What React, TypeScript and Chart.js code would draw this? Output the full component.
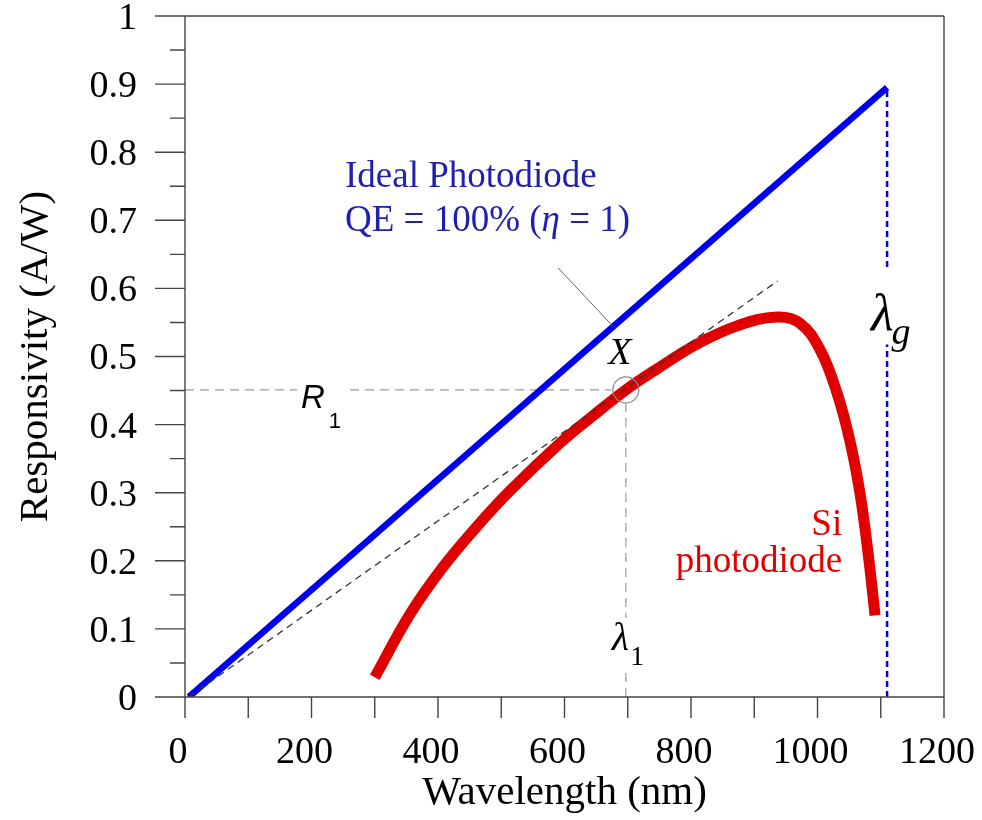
import React, { useEffect, useRef } from 'react';
import { Chart, registerables } from 'chart.js';

Chart.register(...registerables);

// ---------- data ----------
const idealWavelength = [6, 1110];
const idealResponsivity = [0, 0.895];

const siWavelength = [300, 356, 408, 462, 514, 593, 645, 697, 740, 809, 873, 936, 972, 1004, 1031, 1051, 1067, 1080, 1091];
const siResponsivity = [0.029, 0.122, 0.191, 0.251, 0.303, 0.373, 0.413, 0.451, 0.478, 0.518, 0.545, 0.558, 0.549, 0.51, 0.446, 0.377, 0.3, 0.211, 0.12];

const tangentWavelength = [6, 937];
const tangentResponsivity = [0, 0.611];

const lambda1 = 697;
const r1 = 0.451;
const lambdaG = 1110;
const lambdaGResponsivity = 0.895;

const xTickValues = [0, 100, 200, 300, 400, 500, 600, 700, 800, 900, 1000, 1100, 1200];
const xLabelValues = [0, 200, 400, 600, 800, 1000, 1200];
const xTickLabels = ['0', '200', '400', '600', '800', '1000', '1200'];

const yTickValues = [0, 0.05, 0.1, 0.15, 0.2, 0.25, 0.3, 0.35, 0.4, 0.45, 0.5, 0.55, 0.6, 0.65, 0.7, 0.75, 0.8, 0.85, 0.9, 0.95, 1];
const yLabelValues = [0, 0.1, 0.2, 0.3, 0.4, 0.5, 0.6, 0.7, 0.8, 0.9, 1];
const yTickLabels = ['0', '0.1', '0.2', '0.3', '0.4', '0.5', '0.6', '0.7', '0.8', '0.9', '1'];

const xTitle = 'Wavelength (nm)';
const yTitle = 'Responsivity (A/W)';

// annotation anchors in data units
const idealLabelLines = ['Ideal Photodiode'];
const idealLabelAnchor = { x: 253, y1: 0.749, y2: 0.684 };
const siLabelLines = ['Si', 'photodiode'];
const siLabelAnchor = { x: 1039, y1: 0.238, y2: 0.184 };
const leaderFrom = { x: 590, y: 0.63 };
const leaderTo = { x: 675, y: 0.546 };

const pts = (xs: number[], ys: number[]) => xs.map((x, i) => ({ x, y: ys[i] }));

const SERIF = '"Liberation Serif", "Times New Roman", serif';
const SANS = '"Liberation Sans", Arial, sans-serif';

const findLabel = (vals: number[], labels: string[], v: number) => {
  const i = vals.findIndex((l) => Math.abs(l - v) < 1e-9);
  return i >= 0 ? labels[i] : '';
};

const decorPlugin = {
  id: 'decor',
  afterDatasetsDraw(chart: any) {
    const { ctx, chartArea: a } = chart;
    const xs = chart.scales.x;
    const ys = chart.scales.y;
    const px = (v: number) => xs.getPixelForValue(v);
    const py = (v: number) => ys.getPixelForValue(v);
    ctx.save();

    // leader line from text to the ideal line
    ctx.strokeStyle = '#666';
    ctx.lineWidth = 1;
    ctx.beginPath();
    ctx.moveTo(px(leaderFrom.x), py(leaderFrom.y));
    ctx.lineTo(px(leaderTo.x), py(leaderTo.y));
    ctx.stroke();

    ctx.textBaseline = 'alphabetic';

    // Ideal photodiode text
    ctx.fillStyle = '#1f1fb0';
    ctx.textAlign = 'left';
    ctx.font = `37px ${SERIF}`;
    ctx.fillText(idealLabelLines[0], px(idealLabelAnchor.x), py(idealLabelAnchor.y1));
    {
      let cx = px(idealLabelAnchor.x);
      const by = py(idealLabelAnchor.y2);
      const parts: [string, string][] = [
        ['QE = 100% (', 'normal'],
        ['η', 'italic'],
        [' = 1)', 'normal'],
      ];
      for (const [t, st] of parts) {
        ctx.font = `${st === 'italic' ? 'italic ' : ''}37px ${SERIF}`;
        ctx.fillText(t, cx, by);
        cx += ctx.measureText(t).width;
      }
    }

    // Si photodiode text
    ctx.fillStyle = '#e00000';
    ctx.textAlign = 'right';
    ctx.font = `37px ${SERIF}`;
    ctx.fillText(siLabelLines[0], px(siLabelAnchor.x), py(siLabelAnchor.y1));
    ctx.fillText(siLabelLines[1], px(siLabelAnchor.x), py(siLabelAnchor.y2));

    // X label above the marked point
    ctx.fillStyle = '#000';
    ctx.textAlign = 'center';
    ctx.font = `italic 38px ${SERIF}`;
    ctx.fillText('X', px(lambda1) - 6, py(r1) - 26);

    // R1 label (with white background over dashed line)
    {
      const bx = px(0) + 116;
      const by = py(r1) + 18;
      ctx.font = `italic 33px ${SANS}`;
      const w1 = ctx.measureText('R').width;
      ctx.fillStyle = '#fff';
      ctx.fillRect(bx - 4, py(r1) - 4, w1 + 24, 8);
      ctx.fillStyle = '#000';
      ctx.textAlign = 'left';
      ctx.fillText('R', bx, by);
      ctx.font = `22px ${SANS}`;
      ctx.fillText('1', bx + w1 + 4, by + 20);
    }

    // lambda_1 label
    {
      const bx = px(lambda1) - 14;
      const by = py(0) - 47;
      ctx.font = `italic 40px ${SERIF}`;
      const w1 = ctx.measureText('λ').width;
      ctx.fillStyle = '#fff';
      ctx.fillRect(bx - 3, by - 32, w1 + 22, 52);
      ctx.fillStyle = '#000';
      ctx.textAlign = 'left';
      ctx.fillText('λ', bx, by);
      ctx.font = `28px ${SERIF}`;
      ctx.fillText('1', bx + w1 + 1, by + 15);
    }

    // lambda_g label
    {
      const bx = px(lambdaG) - 16;
      const by = py(lambdaGResponsivity) + 242;
      ctx.font = `italic 52px ${SERIF}`;
      const w1 = ctx.measureText('λ').width;
      ctx.fillStyle = '#fff';
      ctx.fillRect(bx - 2, by - 60, w1 + 28, 75);
      ctx.fillStyle = '#000';
      ctx.textAlign = 'left';
      ctx.fillText('λ', bx, by);
      ctx.font = `italic 38px ${SERIF}`;
      ctx.fillText('g', bx + w1 - 2, by + 14);
    }

    // axes box
    ctx.strokeStyle = '#444';
    ctx.lineWidth = 1.4;
    ctx.beginPath();
    ctx.moveTo(a.left, a.top);
    ctx.lineTo(a.right, a.top);
    ctx.moveTo(a.right, a.top);
    ctx.lineTo(a.right, a.bottom);
    ctx.moveTo(a.left, a.top);
    ctx.lineTo(a.left, a.bottom);
    ctx.moveTo(a.left, a.bottom);
    ctx.lineTo(a.right, a.bottom);
    // y ticks
    yTickValues.forEach((v) => {
      const major = yLabelValues.some((l) => Math.abs(l - v) < 1e-9);
      const len = major ? 30 : 15;
      const yy = py(v);
      ctx.moveTo(a.left, yy);
      ctx.lineTo(a.left - len, yy);
    });
    // x ticks
    xTickValues.forEach((v) => {
      const xx = px(v);
      ctx.moveTo(xx, a.bottom);
      ctx.lineTo(xx, a.bottom + 21);
    });
    ctx.stroke();
    ctx.restore();
  },
};

export default function App() {
  const canvasRef = useRef<HTMLCanvasElement | null>(null);

  useEffect(() => {
    if (!canvasRef.current) return;
    Chart.defaults.font.family = SERIF;
    Chart.defaults.color = '#000';

    const chart = new Chart(canvasRef.current, {
      type: 'scatter',
      data: {
        datasets: [
          {
            label: 'X',
            data: [{ x: lambda1, y: r1 }],
            showLine: false,
            pointRadius: 13,
            pointBorderWidth: 1.2,
            pointBorderColor: '#8a8a8a',
            pointBackgroundColor: 'rgba(0,0,0,0)',
            order: 0,
          },
          {
            label: 'Tangent',
            data: pts(tangentWavelength, tangentResponsivity),
            showLine: true,
            borderColor: '#333',
            borderWidth: 1.3,
            borderDash: [7, 5],
            pointRadius: 0,
            order: 1,
          },
          {
            label: 'Si photodiode',
            data: pts(siWavelength, siResponsivity),
            showLine: true,
            borderColor: '#e00000',
            borderWidth: 11,
            tension: 0.4,
            pointRadius: 0,
            order: 2,
          },
          {
            label: 'Ideal Photodiode',
            data: pts(idealWavelength, idealResponsivity),
            showLine: true,
            borderColor: '#0000ee',
            borderWidth: 6.5,
            pointRadius: 0,
            order: 3,
          },
          {
            label: 'R1',
            data: [{ x: 0, y: r1 }, { x: lambda1 - 23, y: r1 }],
            showLine: true,
            borderColor: '#9a9a9a',
            borderWidth: 1.2,
            borderDash: [9, 6],
            pointRadius: 0,
            order: 4,
          },
          {
            label: 'lambda1',
            data: [{ x: lambda1, y: 0 }, { x: lambda1, y: r1 - 0.02 }],
            showLine: true,
            borderColor: '#9a9a9a',
            borderWidth: 1.2,
            borderDash: [9, 6],
            pointRadius: 0,
            order: 5,
          },
          {
            label: 'lambdaG',
            data: [{ x: lambdaG, y: 0 }, { x: lambdaG, y: lambdaGResponsivity }],
            showLine: true,
            borderColor: '#0000ee',
            borderWidth: 2.5,
            borderDash: [6, 4],
            pointRadius: 0,
            order: 6,
          },
        ],
      },
      options: {
        animation: false,
        responsive: true,
        maintainAspectRatio: false,
        events: [],
        layout: { padding: { top: 16, right: 38, left: 0, bottom: 0 } },
        plugins: {
          legend: { display: false },
          tooltip: { enabled: false },
        },
        scales: {
          x: {
            type: 'linear',
            min: 0,
            max: 1200,
            afterBuildTicks: (s: any) => {
              s.ticks = xTickValues.map((v) => ({ value: v }));
            },
            afterFit: (s: any) => {
              s.height = 123;
              s.paddingLeft = 0;
              s.paddingRight = 0;
            },
            border: { display: false },
            grid: {
              drawOnChartArea: false,
              drawTicks: true,
              tickLength: 21,
              tickColor: 'rgba(0,0,0,0)',
              color: 'rgba(0,0,0,0)',
            },
            ticks: {
              autoSkip: false,
              maxRotation: 0,
              padding: 12,
              labelOffset: -7,
              color: '#000',
              font: { size: 38, family: SERIF },
              callback: (v: any) => findLabel(xLabelValues, xTickLabels, Number(v)),
            },
            title: {
              display: true,
              text: xTitle,
              color: '#000',
              font: { size: 41, family: SERIF },
              padding: { top: 0, bottom: 2 },
            },
          },
          y: {
            type: 'linear',
            min: 0,
            max: 1,
            afterBuildTicks: (s: any) => {
              s.ticks = yTickValues.map((v) => ({ value: v }));
            },
            afterFit: (s: any) => {
              s.width = 185;
              s.paddingTop = 0;
              s.paddingBottom = 0;
            },
            border: { display: false },
            grid: {
              drawOnChartArea: false,
              drawTicks: true,
              tickLength: 30,
              tickColor: 'rgba(0,0,0,0)',
              color: 'rgba(0,0,0,0)',
            },
            ticks: {
              autoSkip: false,
              padding: 18,
              labelOffset: 3,
              color: '#000',
              font: { size: 38, family: SERIF, lineHeight: 0.8 },
              callback: (v: any) => findLabel(yLabelValues, yTickLabels, Number(v)),
            },
            title: {
              display: true,
              text: yTitle,
              color: '#000',
              font: { size: 41, family: SERIF },
              padding: { top: 12, bottom: 0 },
            },
          },
        },
      },
      plugins: [decorPlugin],
    } as any);

    return () => chart.destroy();
  }, []);

  return (
    <div style={{ position: 'absolute', left: 0, top: 0, width: 982, height: 820, background: '#fff' }}>
      <canvas ref={canvasRef} />
    </div>
  );
}
